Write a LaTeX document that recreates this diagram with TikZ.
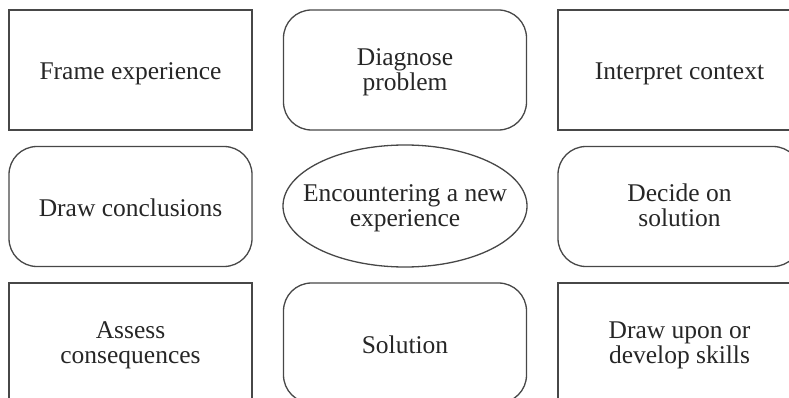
\documentclass[tikz,border=0pt]{standalone}
\usepackage{fontspec}
\setmainfont{Liberation Serif}
\usetikzlibrary{shapes.geometric}
\begin{document}
\begin{tikzpicture}[x=1pt,y=-1pt,
  base/.style={draw=black!72, line width=1.3pt, text=black!85, align=center,
    font=\fontsize{25.5}{25}\selectfont, inner sep=0pt, text height=20pt, text depth=0pt},
  two/.style={text height=40.5pt, text depth=0pt},
  sqbox/.style={base, rectangle, minimum width=243pt, minimum height=120pt},
  rndbox/.style={base, rectangle, rounded corners=28pt, minimum width=243pt, minimum height=120pt},
  oval/.style={base, ellipse, minimum width=244pt, minimum height=122pt},
  lbl/.style={base, draw=none}]
\useasboundingbox (0,0) rectangle (789,398);
\clip (0,0) rectangle (789,398);
\node[sqbox]  (frame)   at (130.5,70)  {Frame experience};
\node[rndbox, two] (diag) at (405,70)  {Diagnose\\problem};
\node[sqbox]  (interp)  at (679.5,70)  {Interpret context};
\node[rndbox] (concl)   at (130.5,206.5) {Draw conclusions};
\node[oval]   (enc)     at (405,206)   {};
\node[lbl, two] (enctext) at (enc.center) {Encountering a new\\experience};
\node[rndbox, two] (decide) at (679.5,206.5) {Decide on\\solution};
\node[sqbox, two] (assess) at (130.5,343) {Assess\\consequences};
\node[rndbox] (sol)     at (405,343)   {Solution};
\node[sqbox, two] (skills) at (679.5,343) {Draw upon or\\develop skills};
\end{tikzpicture}
\end{document}
